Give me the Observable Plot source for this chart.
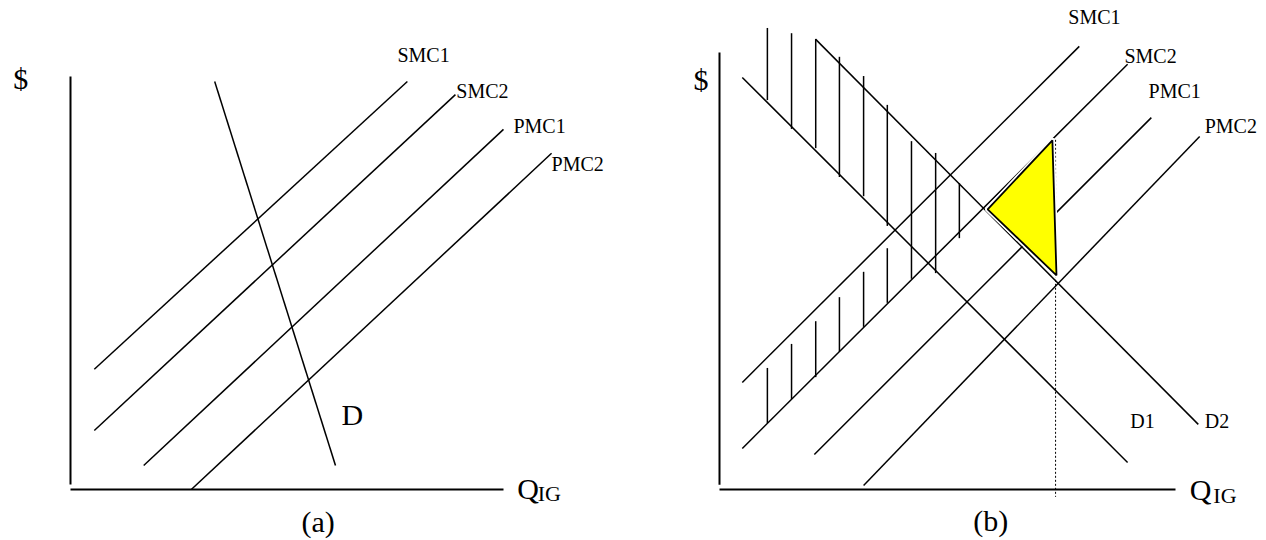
<!DOCTYPE html>
<html><head><meta charset="utf-8">
<script src="https://cdn.jsdelivr.net/npm/d3@7"></script>
<script src="https://cdn.jsdelivr.net/npm/@observablehq/plot@0.6"></script>
<style>
html,body{margin:0;padding:0;background:#fff;}
#wrap{display:flex;width:1266px;height:540px;}
#wrap svg{display:block;}
</style></head><body><div id="wrap"></div>
<script>
// ---------- Panel (a) data (Q units 0-100, $ units 0-100) ----------
const aCurveNames = ["SMC1", "SMC2", "PMC1", "PMC2", "D"];
const aCurveStart = [[5.5, 29.1], [5.5, 14.3], [16.9, 5.8], [27.9, 0], [33.3, 98.8]];
const aCurveEnd   = [[77.8, 98.8], [88.9, 95.6], [100, 87.2], [111.1, 81.4], [61.2, 5.8]];
const aLabelText  = ["SMC1", "SMC2", "PMC1", "PMC2"];
const aLabelPos   = [[75.5, 103.6], [89.1, 94.9], [102.3, 86.2], [111.1, 77.2]];
const aBigText    = ["D", "$", "Q"];
const aBigPos     = [[62.6, 15.7], [-13.2, 96.9], [103.2, -2.2]];
const aSubText    = ["IG"];
const aSubPos     = [[107.9, -2.9]];
const aCaption    = ["(a)"];
const aCaptionPos = [[57.2, -10.2]];
const aAxisY = [1.2, 100];
const aAxisX = [0, 100];

// ---------- Panel (b) data ----------
const bCurveNames = ["SMC1", "SMC2", "PMC1", "PMC2", "D1", "D2"];
const bCurveStart = [[5.0, 24.5], [5.0, 9.4], [20.8, 8.0], [31.6, 0.9], [5.0, 94.3], [21.1, 103.0]];
const bCurveEnd   = [[78.9, 101.4], [89.5, 97.3], [94.7, 85.1], [105.3, 80.8], [89.5, 6.2], [105.0, 14.9]];
const bLabelText  = ["SMC1", "SMC2", "PMC1", "PMC2", "D1", "D2"];
const bLabelPos   = [[76.5, 106.6], [88.8, 97.7], [94.1, 89.7], [106.4, 81.5], [90.1, 14.0], [106.4, 14.0]];
const bBigText    = ["$", "Q"];
const bBigPos     = [[-5.7, 91.5], [103.1, -2.5]];
const bSubText    = ["IG"];
const bSubPos     = [[108.3, -3.2]];
const bCaption    = ["(b)"];
const bCaptionPos = [[59.5, -9.6]];
const bAxisY = [1.1, 100];
const bAxisX = [0, 100];
// hatching between D1 and D2 (upper) and SMC1/SMC2 (lower)
const hatchUpperQ      = [10.5, 15.8, 21.1, 26.3, 31.6, 36.8, 42.1, 47.4, 52.6];
const hatchUpperTop    = [105.5, 104.3, 103.0, 98.9, 94.5, 87.9, 79.6, 76.9, 70.0];
const hatchUpperBottom = [89.0, 82.4, 78.0, 71.4, 67.0, 60.2, 48.1, 49.4, 57.4];
const hatchLowerQ      = [10.5, 15.8, 21.1, 26.3, 31.6, 36.8];
const hatchLowerTop    = [27.7, 33.2, 38.4, 43.9, 49.7, 55.1];
const hatchLowerBottom = [15.1, 20.6, 25.6, 31.4, 37.1, 42.6];
// welfare triangle and dotted quantity line
const triangleQ = [73.0, 58.8, 73.9];
const triangleP = [79.9, 64.1, 49.0];
const dottedQ = 73.7;
const dottedP = [79.9, -1.8];

const FONT = "'Liberation Serif','Times New Roman',serif";

function links(starts, ends) {
  return starts.map((s, i) => ({x1: s[0], y1: s[1], x2: ends[i][0], y2: ends[i][1]}));
}
function texts(names, pos) {
  return names.map((t, i) => ({text: t, x: pos[i][0], y: pos[i][1]}));
}
function axes(ay, ax) {
  return [
    Plot.link([{x1: 0, y1: ay[0], x2: 0, y2: ay[1]}], {x1: "x1", y1: "y1", x2: "x2", y2: "y2", stroke: "black", strokeWidth: 2}),
    Plot.link([{x1: ax[0], y1: 0, x2: ax[1], y2: 0}], {x1: "x1", y1: "y1", x2: "x2", y2: "y2", stroke: "black", strokeWidth: 2})
  ];
}
function commonText(lbl, big, sub, cap) {
  return [
    Plot.text(lbl, {x: "x", y: "y", text: "text", textAnchor: "start", lineAnchor: "bottom", fontSize: 20, fill: "black"}),
    Plot.text(big, {x: "x", y: "y", text: "text", textAnchor: "start", lineAnchor: "bottom", fontSize: 30, fill: "black"}),
    Plot.text(sub, {x: "x", y: "y", text: "text", textAnchor: "start", lineAnchor: "bottom", fontSize: 22, fill: "black"}),
    Plot.text(cap, {x: "x", y: "y", text: "text", textAnchor: "middle", lineAnchor: "bottom", fontSize: 30, fill: "black"})
  ];
}

const plotA = Plot.plot({
  width: 633, height: 540,
  marginLeft: 70, marginRight: 130, marginTop: 76, marginBottom: 51,
  x: {domain: [0, 100], axis: null},
  y: {domain: [0, 100], axis: null},
  style: {fontFamily: FONT, background: "white", overflow: "visible"},
  marks: [
    ...axes(aAxisY, aAxisX),
    Plot.link(links(aCurveStart, aCurveEnd), {x1: "x1", y1: "y1", x2: "x2", y2: "y2", stroke: "black", strokeWidth: 1.5}),
    ...commonText(texts(aLabelText, aLabelPos), texts(aBigText, aBigPos), texts(aSubText, aSubPos), texts(aCaption, aCaptionPos))
  ]
});

const tri = triangleQ.map((q, i) => ({x: q, y: triangleP[i]}));
const plotB = Plot.plot({
  width: 633, height: 540,
  marginLeft: 86, marginRight: 91, marginTop: 52, marginBottom: 51,
  x: {domain: [0, 100], axis: null},
  y: {domain: [0, 100], axis: null},
  style: {fontFamily: FONT, background: "white", overflow: "visible"},
  marks: [
    ...axes(bAxisY, bAxisX),
    Plot.ruleX(hatchUpperQ.map((q, i) => ({x: q, y1: hatchUpperTop[i], y2: hatchUpperBottom[i]})), {x: "x", y1: "y1", y2: "y2", stroke: "black", strokeWidth: 1.5}),
    Plot.ruleX(hatchLowerQ.map((q, i) => ({x: q, y1: hatchLowerTop[i], y2: hatchLowerBottom[i]})), {x: "x", y1: "y1", y2: "y2", stroke: "black", strokeWidth: 1.5}),
    Plot.link(links(bCurveStart, bCurveEnd), {x1: "x1", y1: "y1", x2: "x2", y2: "y2", stroke: "black", strokeWidth: 1.5}),
    Plot.ruleX([{x: dottedQ, y1: dottedP[0], y2: dottedP[1]}], {x: "x", y1: "y1", y2: "y2", stroke: "black", strokeWidth: 1, strokeDasharray: "2,2"}),
    Plot.line(tri, {x: "x", y: "y", curve: "linear-closed", stroke: "white", strokeWidth: 5, fill: "none"}),
    Plot.line(tri, {x: "x", y: "y", curve: "linear-closed", stroke: "black", strokeWidth: 1.8, fill: "#ffff00", strokeLinejoin: "miter"}),
    ...commonText(texts(bLabelText, bLabelPos), texts(bBigText, bBigPos), texts(bSubText, bSubPos), texts(bCaption, bCaptionPos))
  ]
});

document.getElementById("wrap").append(plotA, plotB);
</script></body></html>
